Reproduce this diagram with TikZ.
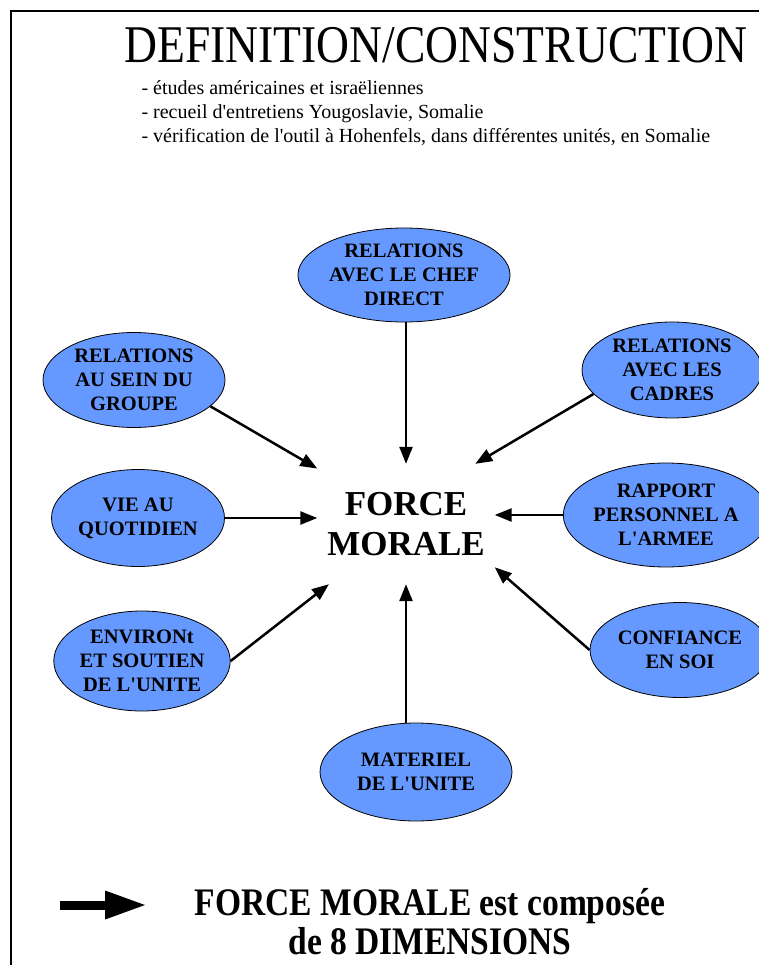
\documentclass[tikz,border=0pt]{standalone}
\usepackage{fontspec}
\setmainfont{Liberation Serif}
\newfontfamily\narrowserif{Liberation Serif}[FakeStretch=0.86]
\usetikzlibrary{arrows.meta,shapes,positioning}
\definecolor{dimblue}{RGB}{102,153,255}
\newcommand{\apos}{\textquotesingle}

\begin{document}
\begin{tikzpicture}[x=1pt, y=-1pt,
        dim/.style={draw, ellipse, fill=dimblue, thick, inner sep=0pt, align=center, font=\bfseries\fontsize{20.5}{24}\selectfont},
        feed/.style={-{Triangle[length=17pt, width=13pt]}, line width=2.5pt}
    ]
    \useasboundingbox (0,0) rectangle (759,965);

    % 1. Frame and heading
    \draw[line width=2pt] (11,965) -- (11,11) -- (759,11);
    \node[font=\narrowserif\fontsize{53}{56}\selectfont] (title) at (436,45) {DEFINITION/CONSTRUCTION};
    \node[font=\fontsize{20}{24}\selectfont, align=left, anchor=west] (sources) at (138,113) {- études américaines et israëliennes\\- recueil d\apos entretiens Yougoslavie, Somalie\\- vérification de l\apos outil à Hohenfels, dans différentes unités, en Somalie};

    % 2. The core
    \node[font=\bfseries\fontsize{35}{40}\selectfont, align=center, minimum width=177pt, minimum height=120pt] (force) at (406,524) {FORCE\\MORALE};

    % 3. The eight dimensions
    \node[dim, minimum width=200pt, minimum height=94pt] (chef) at (404,275) {RELATIONS\\AVEC LE CHEF\\DIRECT};
    \node[dim, minimum width=182pt, minimum height=95pt] (groupe) at (134,380) {RELATIONS\\AU SEIN DU\\GROUPE};
    \node[dim, minimum width=180pt, minimum height=96pt] (cadres) at (672,370) {RELATIONS\\AVEC LES\\CADRES};
    \node[dim, minimum width=173pt, minimum height=97pt] (vie) at (138,518) {VIE AU\\QUOTIDIEN};
    \node[dim, minimum width=186pt, minimum height=104pt] (armee) at (666,515) {RAPPORT\\PERSONNEL A\\L\apos ARMEE};
    \node[dim, minimum width=166pt, minimum height=100pt] (soutien) at (142,661) {ENVIRONt\\ET SOUTIEN\\DE L\apos UNITE};
    \node[dim, minimum width=180pt, minimum height=95pt] (confiance) at (680,650) {CONFIANCE\\EN SOI};
    \node[dim, minimum width=192pt, minimum height=98pt] (materiel) at (416,772) {MATERIEL\\DE L\apos UNITE};

    % Arrows
    \draw[feed] (force.north |- chef.south) -- (force.north);
    \draw[feed] (groupe.341) -- (force.148);
    \draw[feed] (cadres.197) -- (force.41);
    \draw[feed] (vie) -- (vie -| force.west);
    \draw[feed] (armee) -- (armee -| force.east);
    \draw[feed] (soutien.east) -- (force.218);
    \draw[feed] (confiance.west) -- (force.334);
    \draw[feed] (force.south |- materiel.north) -- (force.south);

    % 4. Summary
    \coordinate (keytail) at (60,905);
    \coordinate (keyhead) at (147,905);
    \draw[line width=9pt, -{Triangle[length=42pt, width=26pt]}] (keytail) -- (keyhead);
    \node[font=\narrowserif\bfseries\fontsize{39}{39}\selectfont, align=center] (summary) at (430,922) {FORCE MORALE est composée\\de 8 DIMENSIONS};

\end{tikzpicture}
\end{document}
